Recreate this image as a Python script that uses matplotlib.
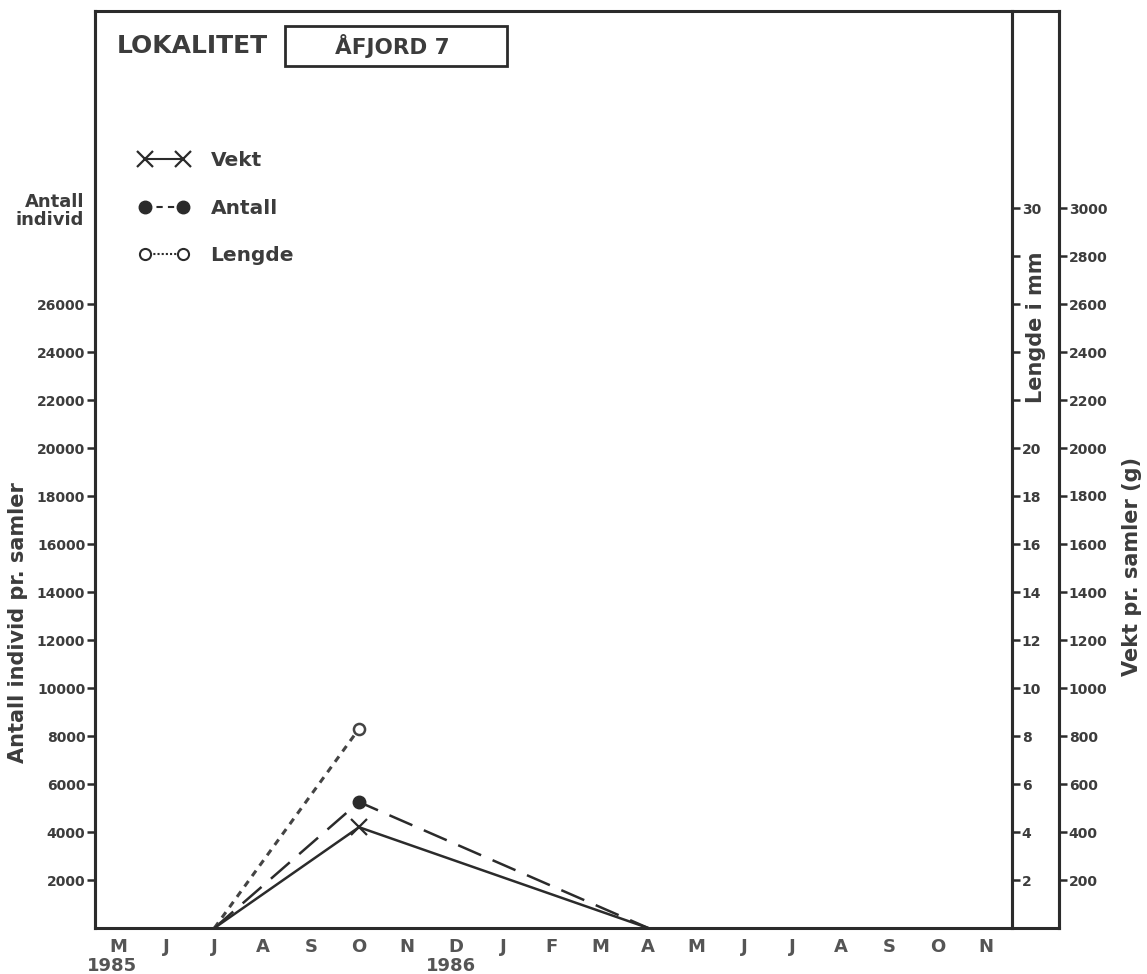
import numpy as np
import matplotlib.pyplot as plt
from matplotlib.patches import Rectangle
from matplotlib.lines import Line2D

# months along the x axis (May 1985 - Nov 1986)
months = ['M', 'J', 'J', 'A', 'S', 'O', 'N', 'D', 'J', 'F', 'M', 'A',
          'M', 'J', 'J', 'A', 'S', 'O', 'N']

# sampling dates as month index
vekt_x = [2, 5, 11]
vekt_g = [0, 420, 0]          # Vekt pr. samler (g)
antall_x = [2, 5, 11]
antall_n = [0, 5250, 0]       # Antall individ pr. samler
lengde_x = [2, 5]
lengde_mm = [0, 8.3]          # Lengde i mm

left_ticks = list(range(2000, 28000, 2000))
lengde_ticks = list(range(2, 32, 2))
lengde_labels = [str(t) if (t <= 20 or t == 30) else '' for t in lengde_ticks]
vekt_ticks = list(range(200, 3200, 200))

W, H = 1147, 974
fig = plt.figure(figsize=(W / 100, H / 100), dpi=100)

ink = '#2b2b2b'
txt = '#3c3c3c'
slw = 2.2

L = 95 / W
B = (H - 928) / H
HT = (928 - 11) / H
W_full = (1059 - 95) / W
W_in = (1012 - 95) / W

# outer frame
frame = fig.add_axes([L, B, W_full, HT])
frame.set_xticks([])
frame.set_yticks([])
for s in frame.spines.values():
    s.set_linewidth(slw)
    s.set_color(ink)

ax = fig.add_axes([L, B, W_in, HT])
ax.patch.set_alpha(0)
ax.spines['top'].set_visible(False)
ax.spines['bottom'].set_visible(False)
for s in ['left', 'right']:
    ax.spines[s].set_linewidth(slw)
    ax.spines[s].set_color(ink)

ymax = 917 / 24 * 1000
ax.set_xlim(-0.477, 18.548)
ax.set_ylim(0, ymax)
ax.set_yticks(left_ticks)
ax.set_yticklabels([str(t) for t in left_ticks])
ax.tick_params(axis='y', direction='out', length=6, width=1.8, pad=1,
               labelsize=10, colors=ink, labelcolor=txt)
ax.set_xticks(range(len(months)))
ax.set_xticklabels(months)
ax.tick_params(axis='x', length=0, pad=7, labelsize=13, labelcolor='#555555')
for lab in ax.get_xticklabels() + ax.get_yticklabels():
    lab.set_fontweight('bold')

ax_len = ax.twinx()
ax_len.set_ylim(0, ymax / 1000)
for s in ['left', 'top', 'bottom']:
    ax_len.spines[s].set_visible(False)
ax_len.spines['right'].set_linewidth(slw)
ax_len.spines['right'].set_color(ink)
ax_len.set_yticks(lengde_ticks)
ax_len.set_yticklabels(lengde_labels)
ax_len.tick_params(axis='y', direction='out', length=6, width=1.8, pad=1,
                   labelsize=10, colors=ink, labelcolor=txt)

ax_v = ax.twinx()
ax_v.set_ylim(0, ymax / 10)
for s in ['left', 'top', 'bottom']:
    ax_v.spines[s].set_visible(False)
ax_v.spines['right'].set_position(('outward', 47 * 0.72))
ax_v.spines['right'].set_linewidth(slw)
ax_v.spines['right'].set_color(ink)
ax_v.set_yticks(vekt_ticks)
ax_v.tick_params(axis='y', direction='out', length=6, width=1.8, pad=1,
                 labelsize=10, colors=ink, labelcolor=txt)
for a in (ax_len, ax_v):
    for lab in a.get_yticklabels():
        lab.set_fontweight('bold')

# data
l_vekt, = ax_v.plot(vekt_x, vekt_g, color=ink, lw=1.8, marker='x', ms=11,
                    mew=1.6, markevery=[1])
l_ant, = ax.plot(antall_x, antall_n, color=ink, lw=1.8, marker='o', ms=9,
                 dashes=(10, 5), markevery=[1])
l_len, = ax_len.plot(lengde_x, lengde_mm, color='#444444', lw=2.2, marker='o',
                     ms=8, mfc='white', mew=1.8, dashes=(2.2, 2),
                     markevery=[1])

# legend
h_v = Line2D([], [], color=ink, lw=1.5, marker='x', ms=11, mew=1.6)
h_a = Line2D([], [], color=ink, lw=1.5, marker='o', ms=9, dashes=(3, 2.5))
h_l = Line2D([], [], color=ink, lw=1.5, marker='o', ms=8, mfc='white',
             mew=1.5, dashes=(1, 1))
leg = ax.legend([h_v, h_a, h_l], ['Vekt', 'Antall', 'Lengde'], numpoints=2,
                frameon=False, loc='upper left',
                bbox_to_anchor=(129 / W, 1 - 141 / H),
                bbox_transform=fig.transFigure, handlelength=2.5,
                handletextpad=1.05, labelspacing=1.42, borderpad=0,
                prop={'weight': 'bold', 'size': 14.5})
for t in leg.get_texts():
    t.set_color(txt)

# axis labels
fig.text(18 / W, 1 - 623 / H, 'Antall individ pr. samler', rotation=90,
         ha='center', va='center', fontsize=15, fontweight='bold', color=txt)
fig.text(84 / W, 1 - 211 / H, 'Antall\nindivid', ha='right', va='center',
         fontsize=13, fontweight='bold', color=txt, linespacing=1.0)
fig.text(1036 / W, 1 - 327 / H, 'Lengde i mm', rotation=90, ha='center',
         va='center', fontsize=15, fontweight='bold', color=txt)
fig.text(1132 / W, 1 - 566 / H, 'Vekt pr. samler (g)', rotation=90,
         ha='center', va='center', fontsize=15, fontweight='bold', color=txt)

# years
ax.text(-0.12, -0.0414, '1985', transform=ax.get_xaxis_transform(),
        ha='center', va='center', fontsize=13, fontweight='bold', color='#555555')
ax.text(6.9, -0.0414, '1986', transform=ax.get_xaxis_transform(),
        ha='center', va='center', fontsize=13, fontweight='bold', color='#555555')

# locality header
fig.text(117 / W, 1 - 46 / H, 'LOKALITET', ha='left', va='center',
         fontsize=18, fontweight='bold', color=txt)
fig.add_artist(Rectangle((285 / W, 1 - 66 / H), 222 / W, 40 / H,
                         transform=fig.transFigure, fill=False,
                         lw=2, edgecolor=ink))
fig.text(392 / W, 1 - 46 / H, 'ÅFJORD 7', ha='center', va='center',
         fontsize=15.5, fontweight='bold', color=txt)

fig.savefig('out.png', dpi=100)
